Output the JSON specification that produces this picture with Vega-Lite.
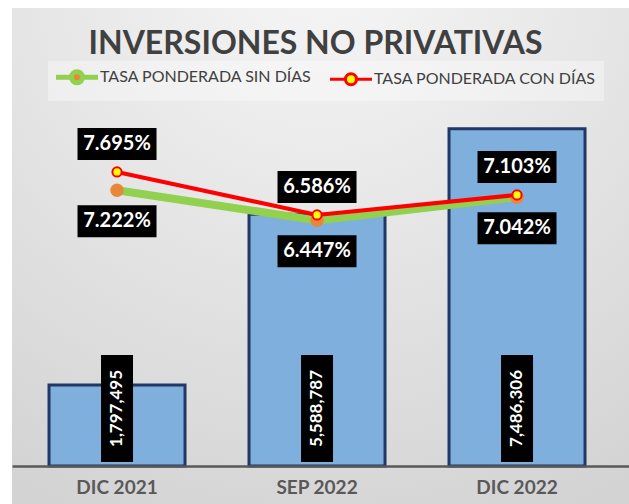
{
  "$schema": "https://vega.github.io/schema/vega-lite/v6.json",
  "width": 617,
  "height": 496,
  "autosize": {"type": "none"},
  "padding": {"left": 12, "top": 8, "right": 0, "bottom": 0},
  "background": "#ffffff",
  "title": {
    "text": "INVERSIONES NO PRIVATIVAS",
    "font": "Lato",
    "fontSize": 32,
    "fontWeight": "bold",
    "color": "#404040",
    "anchor": "middle",
    "frame": "group",
    "offset": -45,
    "baseline": "alphabetic",
    "dx": -5,
    "dy": 33
  },
  "config": {"view": {"stroke": null}, "axis": {"grid": false}},
  "datasets": {
    "montos": [
      {"periodo": "DIC 2021", "monto": 1797495},
      {"periodo": "SEP 2022", "monto": 5588787},
      {"periodo": "DIC 2022", "monto": 7486306}
    ],
    "tasas": [
      {"periodo": "DIC 2021", "serie": "TASA PONDERADA SIN DÍAS", "tasa": 0.07222},
      {"periodo": "SEP 2022", "serie": "TASA PONDERADA SIN DÍAS", "tasa": 0.06447},
      {"periodo": "DIC 2022", "serie": "TASA PONDERADA SIN DÍAS", "tasa": 0.07042},
      {"periodo": "DIC 2021", "serie": "TASA PONDERADA CON DÍAS", "tasa": 0.07695},
      {"periodo": "SEP 2022", "serie": "TASA PONDERADA CON DÍAS", "tasa": 0.06586},
      {"periodo": "DIC 2022", "serie": "TASA PONDERADA CON DÍAS", "tasa": 0.07103}
    ]
  },
  "layer": [
    {
      "data": {"values": [{}]},
      "mark": {
        "type": "rect",
        "color": {
          "gradient": "radial",
          "x1": 0.5, "y1": 0, "r1": 0,
          "x2": 0.5, "y2": 0, "r2": 1,
          "stops": [
            {"offset": 0, "color": "#f7f7f7"},
            {"offset": 1, "color": "#d3d3d3"}
          ]
        }
      },
      "encoding": {}
    },
    {
      "data": {"name": "montos"},
      "mark": {"type": "bar", "fill": "#7FAFDD", "stroke": "#1F3864", "strokeWidth": 3},
      "encoding": {
        "x": {
          "field": "periodo", "type": "nominal", "title": null,
          "scale": {"domain": ["DIC 2021", "SEP 2022", "DIC 2022"], "paddingInner": 0.32, "paddingOuter": 0.2025, "align": 0.457},
          "axis": {
            "orient": "bottom", "offset": -38, "zindex": 1, "domainColor": "#595959", "domainWidth": 2.5,
            "ticks": false, "labelFont": "Lato", "labelFontSize": 19, "labelFontWeight": "bold",
            "labelColor": "#595959", "labelPadding": 12, "labelAngle": 0
          }
        },
        "y": {"field": "monto", "type": "quantitative", "scale": {"domain": [-843500, 10166000], "nice": false, "zero": false}, "axis": null},
        "y2": {"datum": 0}
      }
    },
    {
      "data": {"name": "tasas"},
      "transform": [{"filter": "datum.serie === 'TASA PONDERADA SIN DÍAS'"}],
      "mark": {"type": "line", "strokeWidth": 8},
      "encoding": {
        "x": {"field": "periodo", "type": "nominal", "title": null},
        "y": {"field": "tasa", "type": "quantitative", "scale": {"domain": [-0.00869, 0.11924], "nice": false, "zero": false}, "axis": null},
        "stroke": {
          "field": "serie", "type": "nominal",
          "scale": {"domain": ["TASA PONDERADA SIN DÍAS", "TASA PONDERADA CON DÍAS"], "range": ["#92D050", "#FF0000"]},
          "legend": {
            "orient": "none", "legendX": 36, "legendY": 53, "direction": "horizontal", "title": null,
            "fillColor": "rgba(255,255,255,0.35)", "padding": 8, "columnPadding": 12,
            "symbolType": "M-1,0H0.9375M2.3125,0H4.25M0.9375,0A0.6875,0.6875 0 1 1 2.3125,0A0.6875,0.6875 0 1 1 0.9375,0Z",
            "symbolSize": 256, "labelOffset": 28, "labelFont": "Lato", "labelFontSize": 16,
            "labelColor": "#404040", "labelLimit": 400,
            "encode": {
              "symbols": {
                "update": {
                  "fill": {"signal": "datum.value === 'TASA PONDERADA SIN DÍAS' ? '#E8873A' : '#FFFF00'"},
                  "fillOpacity": {"value": 1},
                  "strokeWidth": {"signal": "datum.value === 'TASA PONDERADA SIN DÍAS' ? 5 : 3"},
                  "opacity": {"value": 1}
                }
              }
            }
          }
        }
      }
    },
    {
      "data": {"name": "tasas"},
      "transform": [{"filter": "datum.serie === 'TASA PONDERADA SIN DÍAS'"}],
      "mark": {"type": "point", "shape": "circle", "filled": true, "fill": "#E8873A", "size": 180, "opacity": 1, "strokeWidth": 0},
      "encoding": {
        "x": {"field": "periodo", "type": "nominal", "title": null},
        "y": {"field": "tasa", "type": "quantitative", "scale": {"domain": [-0.00869, 0.11924], "nice": false, "zero": false}, "axis": null}
      }
    },
    {
      "data": {"name": "tasas"},
      "transform": [{"filter": "datum.serie === 'TASA PONDERADA CON DÍAS'"}],
      "mark": {"type": "line", "strokeWidth": 4},
      "encoding": {
        "x": {"field": "periodo", "type": "nominal", "title": null},
        "y": {"field": "tasa", "type": "quantitative", "scale": {"domain": [-0.00869, 0.11924], "nice": false, "zero": false}, "axis": null},
        "stroke": {"field": "serie", "type": "nominal"}
      }
    },
    {
      "data": {"name": "tasas"},
      "transform": [{"filter": "datum.serie === 'TASA PONDERADA CON DÍAS'"}],
      "mark": {"type": "point", "shape": "circle", "filled": true, "fill": "#FFFF00", "stroke": "#FF0000", "strokeWidth": 2, "size": 85, "opacity": 1},
      "encoding": {
        "x": {"field": "periodo", "type": "nominal", "title": null},
        "y": {"field": "tasa", "type": "quantitative", "scale": {"domain": [-0.00869, 0.11924], "nice": false, "zero": false}, "axis": null}
      }
    },
    {
      "data": {"name": "tasas"},
      "transform": [{"filter": "datum.serie === 'TASA PONDERADA SIN DÍAS'"}],
      "mark": {"type": "point", "shape": "M-1,-0.405H1V0.405H-1Z", "size": 6241, "filled": true, "fill": "#000000", "opacity": 1, "strokeWidth": 0, "yOffset": 31},
      "encoding": {
        "x": {"field": "periodo", "type": "nominal", "title": null},
        "y": {"field": "tasa", "type": "quantitative", "scale": {"domain": [-0.00869, 0.11924], "nice": false, "zero": false}, "axis": null}
      }
    },
    {
      "data": {"name": "tasas"},
      "transform": [{"filter": "datum.serie === 'TASA PONDERADA SIN DÍAS'"}],
      "mark": {"type": "text", "font": "Lato", "fontSize": 20, "fontWeight": "bold", "color": "#ffffff", "baseline": "middle", "align": "center", "yOffset": 31},
      "encoding": {
        "x": {"field": "periodo", "type": "nominal", "title": null},
        "y": {"field": "tasa", "type": "quantitative", "scale": {"domain": [-0.00869, 0.11924], "nice": false, "zero": false}, "axis": null},
        "text": {"field": "tasa", "type": "quantitative", "format": ".3%"}
      }
    },
    {
      "data": {"name": "tasas"},
      "transform": [{"filter": "datum.serie === 'TASA PONDERADA CON DÍAS'"}],
      "mark": {"type": "point", "shape": "M-1,-0.405H1V0.405H-1Z", "size": 6241, "filled": true, "fill": "#000000", "opacity": 1, "strokeWidth": 0, "yOffset": -28},
      "encoding": {
        "x": {"field": "periodo", "type": "nominal", "title": null},
        "y": {"field": "tasa", "type": "quantitative", "scale": {"domain": [-0.00869, 0.11924], "nice": false, "zero": false}, "axis": null}
      }
    },
    {
      "data": {"name": "tasas"},
      "transform": [{"filter": "datum.serie === 'TASA PONDERADA CON DÍAS'"}],
      "mark": {"type": "text", "font": "Lato", "fontSize": 20, "fontWeight": "bold", "color": "#ffffff", "baseline": "middle", "align": "center", "yOffset": -28},
      "encoding": {
        "x": {"field": "periodo", "type": "nominal", "title": null},
        "y": {"field": "tasa", "type": "quantitative", "scale": {"domain": [-0.00869, 0.11924], "nice": false, "zero": false}, "axis": null},
        "text": {"field": "tasa", "type": "quantitative", "format": ".3%"}
      }
    },
    {
      "data": {"name": "montos"},
      "mark": {"type": "point", "shape": "M-0.299,-1H0.299V1H-0.299Z", "size": 11449, "filled": true, "fill": "#000000", "opacity": 1, "strokeWidth": 0, "yOffset": -57.5},
      "encoding": {
        "x": {"field": "periodo", "type": "nominal", "title": null},
        "y": {"datum": 0, "type": "quantitative", "scale": {"domain": [-843500, 10166000], "nice": false, "zero": false}, "axis": null}
      }
    },
    {
      "data": {"name": "montos"},
      "mark": {"type": "text", "angle": 270, "font": "Lato", "fontSize": 17, "fontWeight": "bold", "color": "#ffffff", "baseline": "middle", "align": "center", "yOffset": -57.5},
      "encoding": {
        "x": {"field": "periodo", "type": "nominal", "title": null},
        "y": {"datum": 0, "type": "quantitative", "scale": {"domain": [-843500, 10166000], "nice": false, "zero": false}, "axis": null},
        "text": {"field": "monto", "type": "quantitative", "format": ",d"}
      }
    }
  ],
  "resolve": {"scale": {"y": "independent"}}
}
